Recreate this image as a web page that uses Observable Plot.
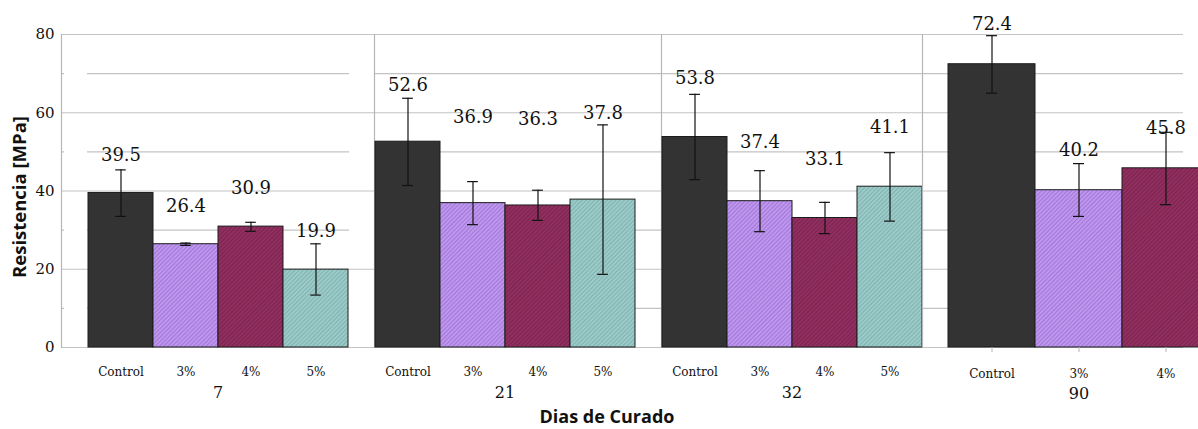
<!DOCTYPE html>
<html>
<head>
<meta charset="utf-8">
<script src="https://cdn.jsdelivr.net/npm/d3@7"></script>
<script src="https://cdn.jsdelivr.net/npm/@observablehq/plot@0.6"></script>
<style>
html, body { margin: 0; padding: 0; background: #fff; overflow: hidden; width: 1198px; height: 429px; }
#chart { position: relative; width: 1198px; height: 429px; }
#chart .panel { position: absolute; top: 0; }
#chart .panel svg { max-width: none; overflow: visible; }
#xtitle { position: absolute; left: 607px; top: 405px; transform: translateX(-50%); font: bold 18px "Open Sans"; line-height: 22px; color: #111; white-space: nowrap; }
</style>
</head>
<body>
<svg width="0" height="0" style="position:absolute">
  <defs>
    <pattern id="pat3" patternUnits="userSpaceOnUse" width="3" height="3" patternTransform="rotate(45)">
      <rect width="3" height="3" fill="#c298f2"></rect>
      <rect width="1.2" height="3" fill="#a07ad4"></rect>
    </pattern>
    <pattern id="pat4" patternUnits="userSpaceOnUse" width="3" height="3" patternTransform="rotate(45)">
      <rect width="3" height="3" fill="#943061"></rect>
      <rect width="1.2" height="3" fill="#7a2450"></rect>
    </pattern>
    <pattern id="pat5" patternUnits="userSpaceOnUse" width="3" height="3" patternTransform="rotate(45)">
      <rect width="3" height="3" fill="#9dcecc"></rect>
      <rect width="1.2" height="3" fill="#83b3b1"></rect>
    </pattern>
  </defs>
</svg>
<div id="chart"></div>
<script>
// ---------- data ----------
const categories = ["Control", "3%", "4%", "5%"];
const groups = ["7", "21", "32", "90"];
const yTicks = [0, 20, 40, 60, 80];
const minorTicks = [10, 30, 50, 70];
const gridTicks = [0, 10, 20, 30, 40, 50, 60, 70, 80];

const values7  = [39.5, 26.4, 30.9, 19.9];
const low7     = [33.5, 26.1, 29.7, 13.4];
const high7    = [45.4, 26.7, 32.0, 26.5];

const values21 = [52.6, 36.9, 36.3, 37.8];
const low21    = [41.4, 31.4, 32.5, 18.7];
const high21   = [63.7, 42.4, 40.2, 56.9];

const values32 = [53.8, 37.4, 33.1, 41.1];
const low32    = [42.9, 29.6, 29.1, 32.3];
const high32   = [64.7, 45.2, 37.1, 49.8];

const values90 = [72.4, 40.2, 45.8];
const low90    = [65.0, 33.5, 36.5];
const high90   = [79.7, 47.0, 55.0];

const yTitle = "Resistencia [MPa]";
const xTitle = "Dias de Curado";

// ---------- helpers ----------
function rows(group, vals, lo, hi) {
  return vals.map((v, i) => ({group, category: categories[i], value: v, lo: lo[i], hi: hi[i]}));
}
const serif = "DejaVu Serif";
const gridColor = "#c3c3c3";
const fills = ["#333333", "url(#pat3)", "url(#pat4)", "url(#pat5)"];

function panel(cfg) {
  const data = rows(cfg.group, cfg.values, cfg.low, cfg.high);
  const cats = categories.slice(0, data.length);
  const bw = (cfg.range[1] - cfg.range[0]) / cats.length;
  const cap = (bw - 11) / 2;
  const marks = [
    ...cfg.grid,
    Plot.frame({anchor: "left", stroke: "#b5b5b5", strokeWidth: 1.2, dx: cfg.sepDx || 0}),
    Plot.barY(data, {x: "category", y: "value", fill: "category", stroke: "#1c1c1c", strokeWidth: 1}),
    Plot.ruleX(data, {x: "category", y1: "lo", y2: "hi", stroke: "#111", strokeWidth: 1.2}),
    Plot.tickY(data, {x: "category", y: "lo", stroke: "#111", strokeWidth: 1.2, insetLeft: cap, insetRight: cap}),
    Plot.tickY(data, {x: "category", y: "hi", stroke: "#111", strokeWidth: 1.2, insetLeft: cap, insetRight: cap}),
    ...cfg.labelOffsets.map(([filter, off]) =>
      Plot.text(data.filter(filter), {x: "category", y: "value", text: d => d.value.toFixed(1),
        dy: -off, lineAnchor: "middle", fontSize: 18, fontFamily: serif, fill: "#111"})),
    Plot.axisX({tickSize: cfg.tickSize || 0, tickPadding: cfg.tickPadding || 20, stroke: "#b5b5b5",
      fontSize: 12, fontFamily: serif, fill: "#111", label: null}),
    Plot.text([cfg.group], {frameAnchor: "bottom", text: d => d, dy: cfg.groupDy || 45,
      lineAnchor: "middle", fontSize: 16, fontFamily: serif, fill: "#111"}),
    ...(cfg.extra || [])
  ];
  const svg = Plot.plot({
    width: cfg.width,
    height: 429,
    marginTop: 34,
    marginBottom: 82,
    marginLeft: cfg.marginLeft,
    marginRight: cfg.marginRight,
    x: {domain: cats, range: cfg.range, padding: 0, axis: null},
    y: {domain: [0, 80], axis: null},
    color: {domain: categories, range: fills},
    style: {background: "transparent", fontFamily: serif, overflow: "visible", maxWidth: "none"},
    marks
  });
  const div = document.createElement("div");
  div.className = "panel";
  div.style.left = cfg.left + "px";
  div.appendChild(svg);
  document.getElementById("chart").appendChild(div);
}

const all = () => true;

// Panel 7 (with y axis)
panel({
  group: groups[0], values: values7, low: low7, high: high7,
  left: 0, width: 374, marginLeft: 61, marginRight: 0, range: [87, 349],
  grid: [
    Plot.ruleY(yTicks, {stroke: gridColor, strokeWidth: 1.2}),
    Plot.ruleY(minorTicks, {stroke: gridColor, strokeWidth: 1.2, insetLeft: 26, insetRight: 25}),
    Plot.ruleY(minorTicks, {stroke: gridColor, strokeWidth: 1.2, insetRight: 310})
  ],
  labelOffsets: [[all, 38]],
  extra: [
    Plot.axisY(yTicks, {tickSize: 0, tickPadding: 7, fontSize: 15, fontFamily: serif, fill: "#111", label: null}),
    Plot.text([yTitle], {frameAnchor: "left", text: d => d, rotate: -90, dx: -41, dy: 6,
      textAnchor: "middle", fontSize: 18.5, fontWeight: "bold", fontFamily: "Open Sans", fill: "#111", lineAnchor: "middle"})
  ]
});

// Panel 21
panel({
  group: groups[1], values: values21, low: low21, high: high21,
  left: 374, width: 287, marginLeft: 0, marginRight: 26, range: [0, 261],
  grid: [Plot.ruleY(gridTicks, {stroke: gridColor, strokeWidth: 1.2, insetRight: -26})],
  labelOffsets: [[d => d.category === "Control", 56], [d => d.category !== "Control", 86]]
});

// Panel 32
panel({
  group: groups[2], values: values32, low: low32, high: high32,
  left: 661, width: 261, marginLeft: 0, marginRight: 0, range: [0, 261],
  grid: [Plot.ruleY(gridTicks, {stroke: gridColor, strokeWidth: 1.2})],
  labelOffsets: [[all, 59]]
});

// Panel 90
panel({
  group: groups[3], values: values90, low: low90, high: high90,
  left: 922, width: 287, marginLeft: 26, marginRight: 0, range: [26, 287],
  sepDx: -26,
  grid: [Plot.ruleY(gridTicks, {stroke: gridColor, strokeWidth: 1.2, insetLeft: -26, insetRight: 26})],
  labelOffsets: [[all, 40]],
  tickSize: 5, tickPadding: 17, groupDy: 46
});

const xt = document.createElement("div");
xt.id = "xtitle";
xt.textContent = xTitle;
document.getElementById("chart").appendChild(xt);
</script>
</body>
</html>
